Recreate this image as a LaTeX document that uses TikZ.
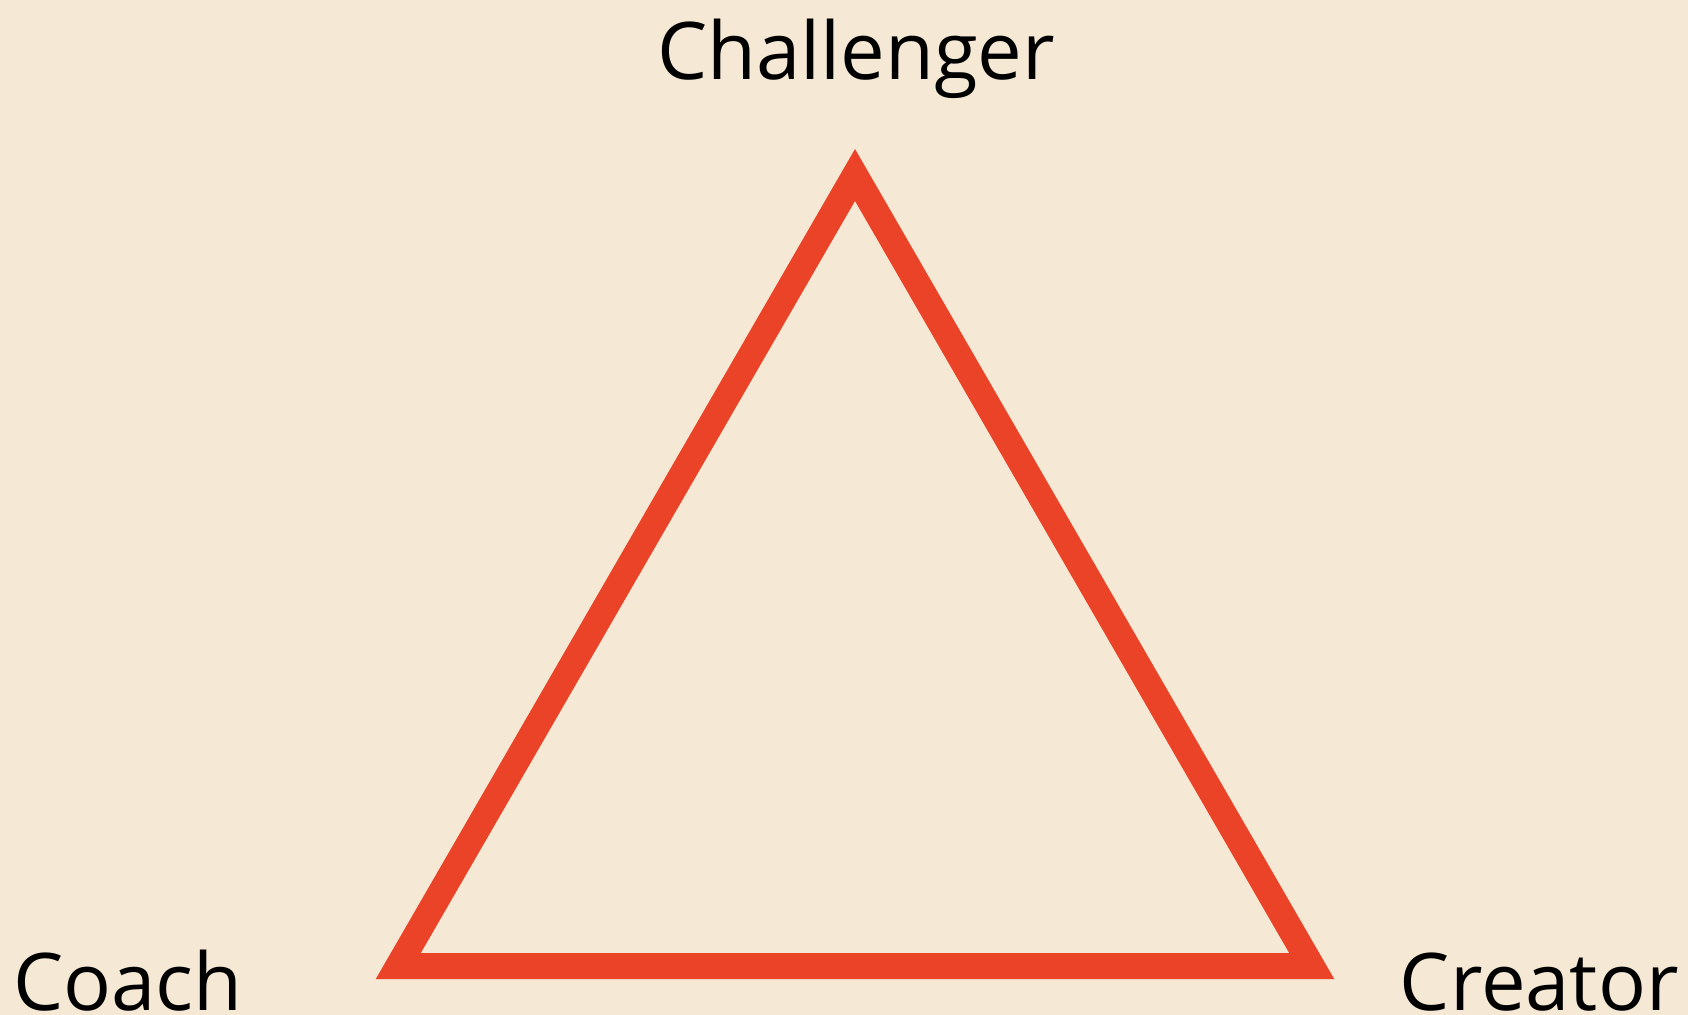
\documentclass[tikz,border=0pt]{standalone}
\usepackage{fontspec}
\setmainfont{Open Sans}
\definecolor{bgc}{HTML}{F5E8D4}
\definecolor{tri}{HTML}{EB4327}
\begin{document}
\begin{tikzpicture}[x=0.5pt,y=-0.5pt,
  lbl/.style={inner sep=0pt,font=\fontsize{39.8}{48}\selectfont,text=black},
  edge/.style={draw=tri,line width=13pt,line join=miter,miter limit=10}]
\fill[bgc] (0,0) rectangle (1688,1015);
\useasboundingbox (0,0) rectangle (1688,1015);
\coordinate (top) at (855,175);
\coordinate (bl) at (398.3,966);
\coordinate (br) at (1311.7,966);
\draw[edge] (top) -- (bl) -- (br) -- cycle;
\node[lbl,anchor=base] (challenger) at (856,80) {Challenger};
\node[lbl,anchor=base west] (coach) at (13,1010) {Coach};
\node[lbl,anchor=base east] (creator) at (1679,1010) {Creator};
\end{tikzpicture}
\end{document}
